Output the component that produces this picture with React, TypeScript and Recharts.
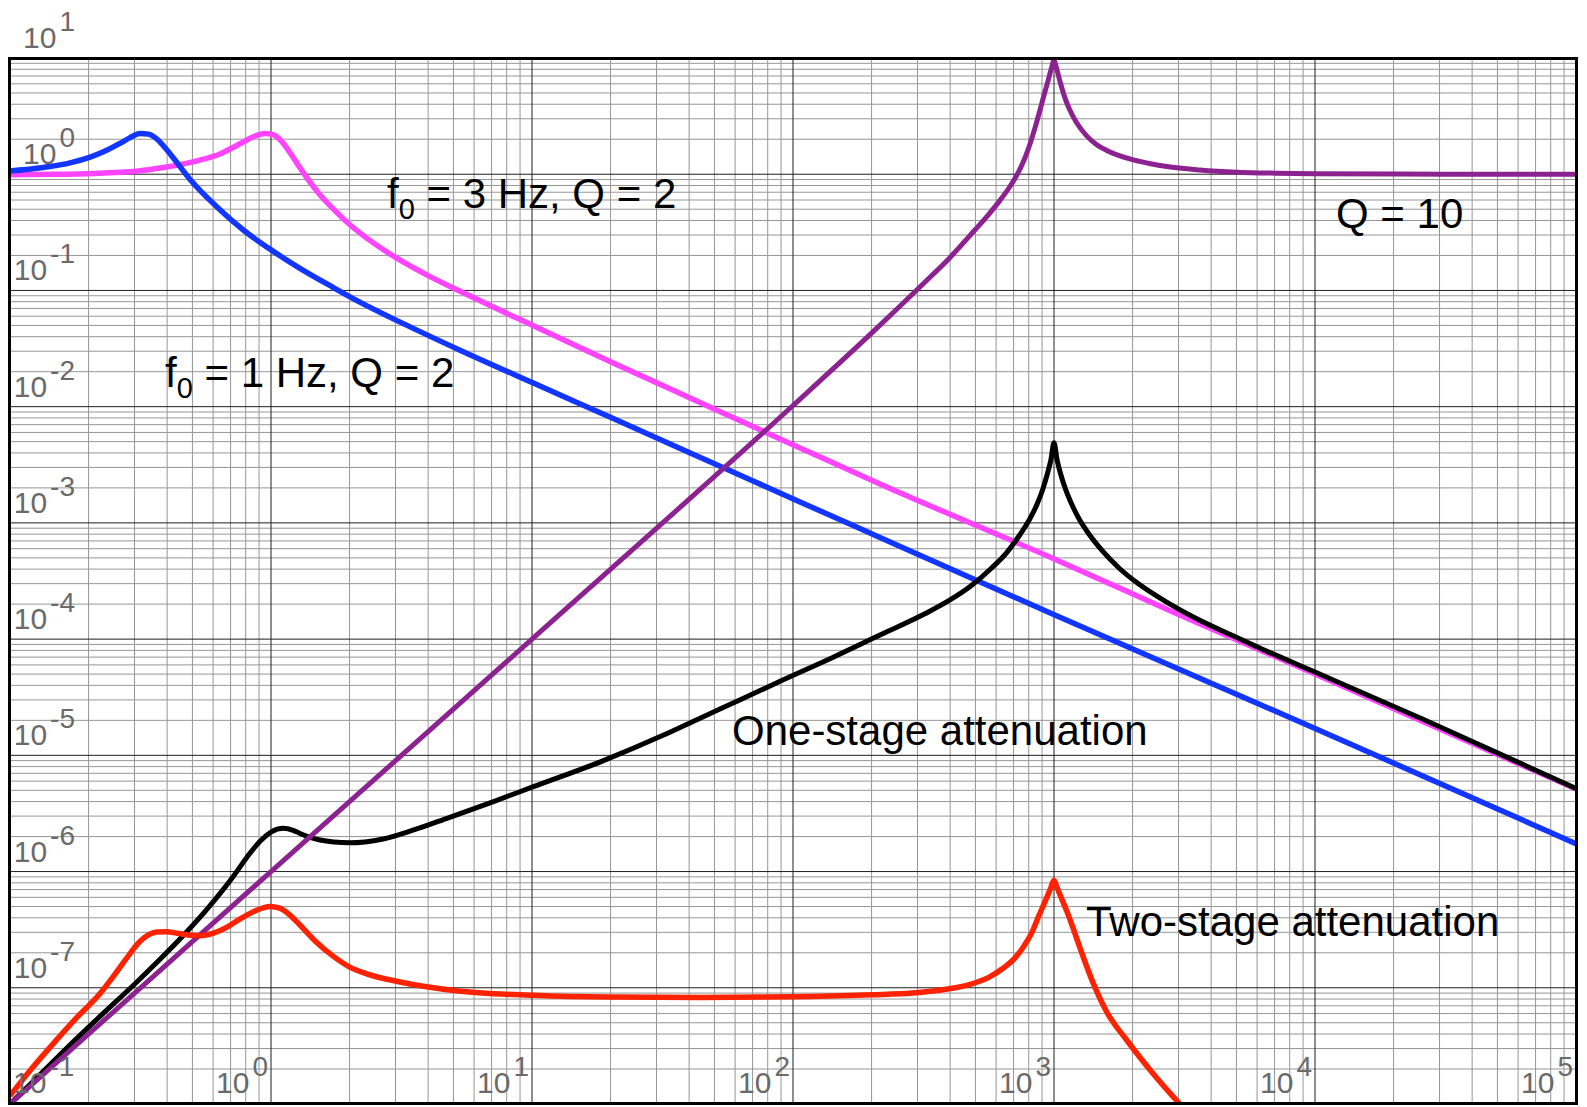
import { LineChart, Line, XAxis, YAxis, ReferenceLine } from "recharts"

const WIDTH = 1587
const HEIGHT = 1107
const MARGIN = { top: 58, right: 11, bottom: 3, left: 10 }
const FONT = '"Liberation Sans", Arial, Helvetica, sans-serif'

// frequency axis (Hz) and gain axis, both log
const X_DOMAIN = [0.1, 1e5]
const Y_DOMAIN = [1e-8, 10]
const X_TICKS = [0.1, 1, 10, 100, 1000, 10000, 100000]
const X_TICK_EXP = ["-1", "0", "1", "2", "3", "4", "5"]
const Y_TICKS = [10, 1, 0.1, 0.01, 1e-3, 1e-4, 1e-5, 1e-6, 1e-7]
const Y_TICK_EXP = ["1", "0", "-1", "-2", "-3", "-4", "-5", "-6", "-7"]

// f0 = 1 Hz, Q = 2
const blueFreq = [0.1, 0.1202, 0.1422, 0.1698, 0.2028, 0.2291, 0.2636, 0.2884, 0.3148, 0.3388, 0.3648, 0.3936, 0.4227, 0.4898, 0.6194, 0.7834, 1.007, 1.291, 1.734, 2.065, 3.35, 5.248, 10.07, 20.28, 54.7, 106.4, 215.3, 1002, 10160, 100000]
const blueGain = [1.067, 1.109, 1.164, 1.253, 1.403, 1.567, 1.841, 2.065, 2.239, 2.213, 2.018, 1.679, 1.38, 0.9016, 0.5248, 0.3311, 0.2213, 0.1549, 0.1059, 0.08511, 0.04955, 0.0309, 0.01603, 0.00798, 0.002951, 0.001514, 7.499e-4, 1.622e-4, 1.679e-5, 1.738e-6]

// f0 = 3 Hz, Q = 2
const magentaFreq = [0.1, 0.1585, 0.2213, 0.3162, 0.3981, 0.5346, 0.631, 0.7178, 0.7943, 0.8551, 0.9484, 1.023, 1.096, 1.183, 1.274, 1.371, 1.531, 1.734, 1.995, 2.328, 3.034, 3.981, 5.26, 10.07, 20.28, 49.89, 106.4, 215.3, 1002, 2884, 10000, 100000]
const magentaGain = [0.9908, 1.0, 1.019, 1.072, 1.153, 1.324, 1.479, 1.706, 1.928, 2.099, 2.239, 2.178, 1.928, 1.531, 1.189, 0.9333, 0.6761, 0.5012, 0.3715, 0.2818, 0.1895, 0.1349, 0.09931, 0.04989, 0.02399, 0.00955, 0.004416, 0.002163, 4.898e-4, 1.698e-4, 5.012e-5, 5.129e-6]

// Q = 10 resonance
const purpleFreq = [0.1, 1, 10, 100, 199.5, 316.2, 398.1, 497.7, 562.3, 620.9, 676.1, 719.5, 767.4, 809.1, 851.1, 883.1, 918.3, 950.6, 977.2, 1000, 1023, 1054, 1096, 1151, 1216, 1334, 1445, 1592, 1778, 2014, 2344, 2704, 3622, 5012, 7079, 10000, 31620, 100000]
const purpleGain = [1e-8, 1e-6, 1e-4, 0.01023, 0.04266, 0.1148, 0.1905, 0.3311, 0.4519, 0.5957, 0.7762, 0.9772, 1.318, 1.82, 2.63, 3.548, 4.898, 6.457, 8.128, 9.55, 8.128, 6.31, 4.677, 3.548, 2.818, 2.138, 1.82, 1.603, 1.445, 1.327, 1.23, 1.164, 1.089, 1.042, 1.021, 1.01, 1.001, 1.0]

// one-stage attenuation
const blackFreq = [0.1, 0.1259, 0.1648, 0.2239, 0.2965, 0.3715, 0.4613, 0.5754, 0.7178, 0.8128, 0.9078, 1.0, 1.114, 1.216, 1.291, 1.413, 1.542, 1.738, 2.009, 2.291, 2.692, 3.548, 4.808, 7.079, 10.12, 18.79, 31.62, 44.06, 63.1, 91.83, 141.3, 215.3, 321.4, 398.1, 478.6, 575.4, 659.2, 741.3, 803.5, 861, 905.7, 944.1, 972.7, 1000, 1028, 1059, 1107, 1175, 1247, 1365, 1524, 1778, 2094, 2692, 3524, 4786, 6412, 10160, 25940, 100000]
const blackGain = [1e-8, 1.66e-8, 3.02e-8, 5.821e-8, 1.047e-7, 1.718e-7, 2.818e-7, 4.898e-7, 9.12e-7, 1.349e-6, 1.82e-6, 2.188e-6, 2.355e-6, 2.265e-6, 2.128e-6, 1.972e-6, 1.871e-6, 1.799e-6, 1.77e-6, 1.799e-6, 1.905e-6, 2.291e-6, 2.917e-6, 3.981e-6, 5.37e-6, 9.016e-6, 1.479e-5, 2.089e-5, 3.02e-5, 4.467e-5, 6.918e-5, 1.084e-4, 1.66e-4, 2.163e-4, 2.851e-4, 4.074e-4, 5.559e-4, 7.943e-4, 1.059e-3, 1.445e-3, 1.95e-3, 2.661e-3, 3.467e-3, 4.898e-3, 3.467e-3, 2.661e-3, 1.95e-3, 1.413e-3, 1.084e-3, 7.943e-4, 5.821e-4, 4.074e-4, 3.02e-4, 2.089e-4, 1.496e-4, 1.084e-4, 8.035e-5, 5.129e-5, 2.042e-5, 5.188e-6]

// two-stage attenuation
const redFreq = [0.1, 0.1227, 0.1479, 0.1778, 0.2213, 0.2512, 0.2799, 0.309, 0.3388, 0.3648, 0.3981, 0.4355, 0.4898, 0.5346, 0.6026, 0.6761, 0.7586, 0.8318, 0.912, 0.9886, 1.081, 1.175, 1.291, 1.479, 1.734, 1.995, 2.328, 3.119, 5.117, 10.12, 19.95, 44.77, 100, 199.5, 286.4, 380.2, 469.9, 562.3, 639.7, 707.9, 767.4, 820.4, 871, 928.9, 972.7, 1000, 1028, 1059, 1119, 1189, 1259, 1413, 1585, 1914, 2399, 3027, 3311]
const redGain = [1.175e-8, 2.089e-8, 3.388e-8, 5.37e-8, 8.913e-8, 1.288e-7, 1.799e-7, 2.399e-7, 2.851e-7, 3.02e-7, 3.034e-7, 2.951e-7, 2.831e-7, 2.805e-7, 2.951e-7, 3.311e-7, 3.89e-7, 4.365e-7, 4.786e-7, 5.012e-7, 4.842e-7, 4.266e-7, 3.467e-7, 2.512e-7, 1.862e-7, 1.514e-7, 1.318e-7, 1.122e-7, 9.441e-8, 8.61e-8, 8.318e-8, 8.26e-8, 8.356e-8, 8.71e-8, 9.016e-8, 9.661e-8, 1.059e-7, 1.23e-7, 1.479e-7, 1.799e-7, 2.291e-7, 2.951e-7, 4.074e-7, 5.675e-7, 7.244e-7, 8.433e-7, 7.244e-7, 6.166e-7, 4.571e-7, 3.162e-7, 2.188e-7, 1.096e-7, 6.31e-8, 3.467e-8, 1.82e-8, 1e-8, 7.943e-9]

const toPoints = (freq: number[], gain: number[]) =>
  freq.map((f, i) => ({ f, v: gain[i] }))

// drawn bottom to top
const series = [
  { key: "magenta", data: toPoints(magentaFreq, magentaGain), color: "#ff44ff", width: 5.5 },
  { key: "blue", data: toPoints(blueFreq, blueGain), color: "#1236ff", width: 5.5 },
  { key: "black", data: toPoints(blackFreq, blackGain), color: "#000000", width: 5 },
  { key: "purple", data: toPoints(purpleFreq, purpleGain), color: "#8c2290", width: 5 },
  { key: "red", data: toPoints(redFreq, redGain), color: "#ff2200", width: 5.5 },
]

// log grid: decades plus 2..9 subdivisions
const decades = (from: number, to: number) => {
  const out: number[] = []
  for (let k = from; k <= to; k++) out.push(Math.pow(10, k))
  return out
}
const subdivisions = (from: number, to: number) => {
  const out: number[] = []
  for (let k = from; k < to; k++) {
    for (let m = 2; m <= 9; m++) out.push(m * Math.pow(10, k))
  }
  return out
}
const xMajor = decades(-1, 5)
const xMinor = subdivisions(-1, 5)
const yMajor = decades(-8, 1)
const yMinor = subdivisions(-8, 1)

const LABEL_GRAY = "#6a6a6a"
const MINOR = "#969696"
const MAJOR = "#1e1e1e"

const powerLabel = (x: number, y: number, exp: string, anchor: "start" | "end") => (
  <text x={x} y={y} textAnchor={anchor} fontFamily={FONT} fontSize={30} fill={LABEL_GRAY}>
    <tspan>10</tspan>
    <tspan dx={3} dy={-17} fontSize={28}>{exp}</tspan>
  </text>
)

// x labels sit inside the plot, just left of their decade line
const xTickLabel = (i: number) => (props: any) => {
  const { viewBox } = props
  const bottom = viewBox.y + viewBox.height
  return i === 0
    ? powerLabel(viewBox.x + 3, bottom - 11, X_TICK_EXP[i], "start")
    : powerLabel(viewBox.x - 3, bottom - 11, X_TICK_EXP[i], "end")
}

// y labels sit just above their decade line
const yTickLabel = (i: number) => (props: any) => {
  const { viewBox } = props
  return powerLabel(viewBox.x + 65, viewBox.y - 10, Y_TICK_EXP[i], "end")
}

export default function App() {
  return (
    <div style={{ position: "absolute", left: 0, top: 0, width: WIDTH, height: HEIGHT, background: "#fff" }}>
      <LineChart width={WIDTH} height={HEIGHT} margin={MARGIN}>
        <XAxis type="number" dataKey="f" scale="log" domain={X_DOMAIN} allowDataOverflow hide />
        <YAxis type="number" scale="log" domain={Y_DOMAIN} allowDataOverflow hide />
        {xMinor.map((v) => (
          <ReferenceLine key={`xm-${v}`} x={v} stroke={MINOR} strokeWidth={1} zIndex={-100} />
        ))}
        {yMinor.map((v) => (
          <ReferenceLine key={`ym-${v}`} y={v} stroke={MINOR} strokeWidth={1} zIndex={-100} />
        ))}
        {xMajor.map((v) => (
          <ReferenceLine key={`xM-${v}`} x={v} stroke={MAJOR} strokeWidth={1} zIndex={-90} />
        ))}
        {yMajor.map((v) => (
          <ReferenceLine key={`yM-${v}`} y={v} stroke={MAJOR} strokeWidth={1} zIndex={-90} />
        ))}
        {series.map((s) => (
          <Line
            key={s.key}
            data={s.data}
            dataKey="v"
            type="monotone"
            stroke={s.color}
            strokeWidth={s.width}
            dot={false}
            activeDot={false}
            isAnimationActive={false}
          />
        ))}
        {X_TICKS.map((v, i) => (
          <ReferenceLine key={`xt-${v}`} x={v} stroke="none" label={xTickLabel(i)} />
        ))}
        {Y_TICKS.map((v, i) => (
          <ReferenceLine key={`yt-${v}`} y={v} stroke="none" label={yTickLabel(i)} />
        ))}
      </LineChart>

      {/* plot frame */}
      <div
        style={{
          position: "absolute",
          left: 8,
          top: 57,
          width: 1570,
          height: 1048,
          border: "3px solid #000",
          boxSizing: "border-box",
          pointerEvents: "none",
        }}
      />

      <svg
        width={WIDTH}
        height={HEIGHT}
        style={{ position: "absolute", left: 0, top: 0, pointerEvents: "none" }}
        fontFamily={FONT}
        fontSize={42}
        fill="#000"
      >
        <text x={387} y={208}>
          f<tspan dy={11} fontSize={29}>0</tspan>
          <tspan dy={-11}> = 3 Hz, Q = 2</tspan>
        </text>
        <text x={165} y={387}>
          f<tspan dy={11} fontSize={29}>0</tspan>
          <tspan dy={-11}> = 1 Hz, Q = 2</tspan>
        </text>
        <text x={1336} y={228}>Q = 10</text>
        <text x={732} y={745}>One-stage attenuation</text>
        <text x={1086} y={936}>Two-stage attenuation</text>
      </svg>
    </div>
  )
}
